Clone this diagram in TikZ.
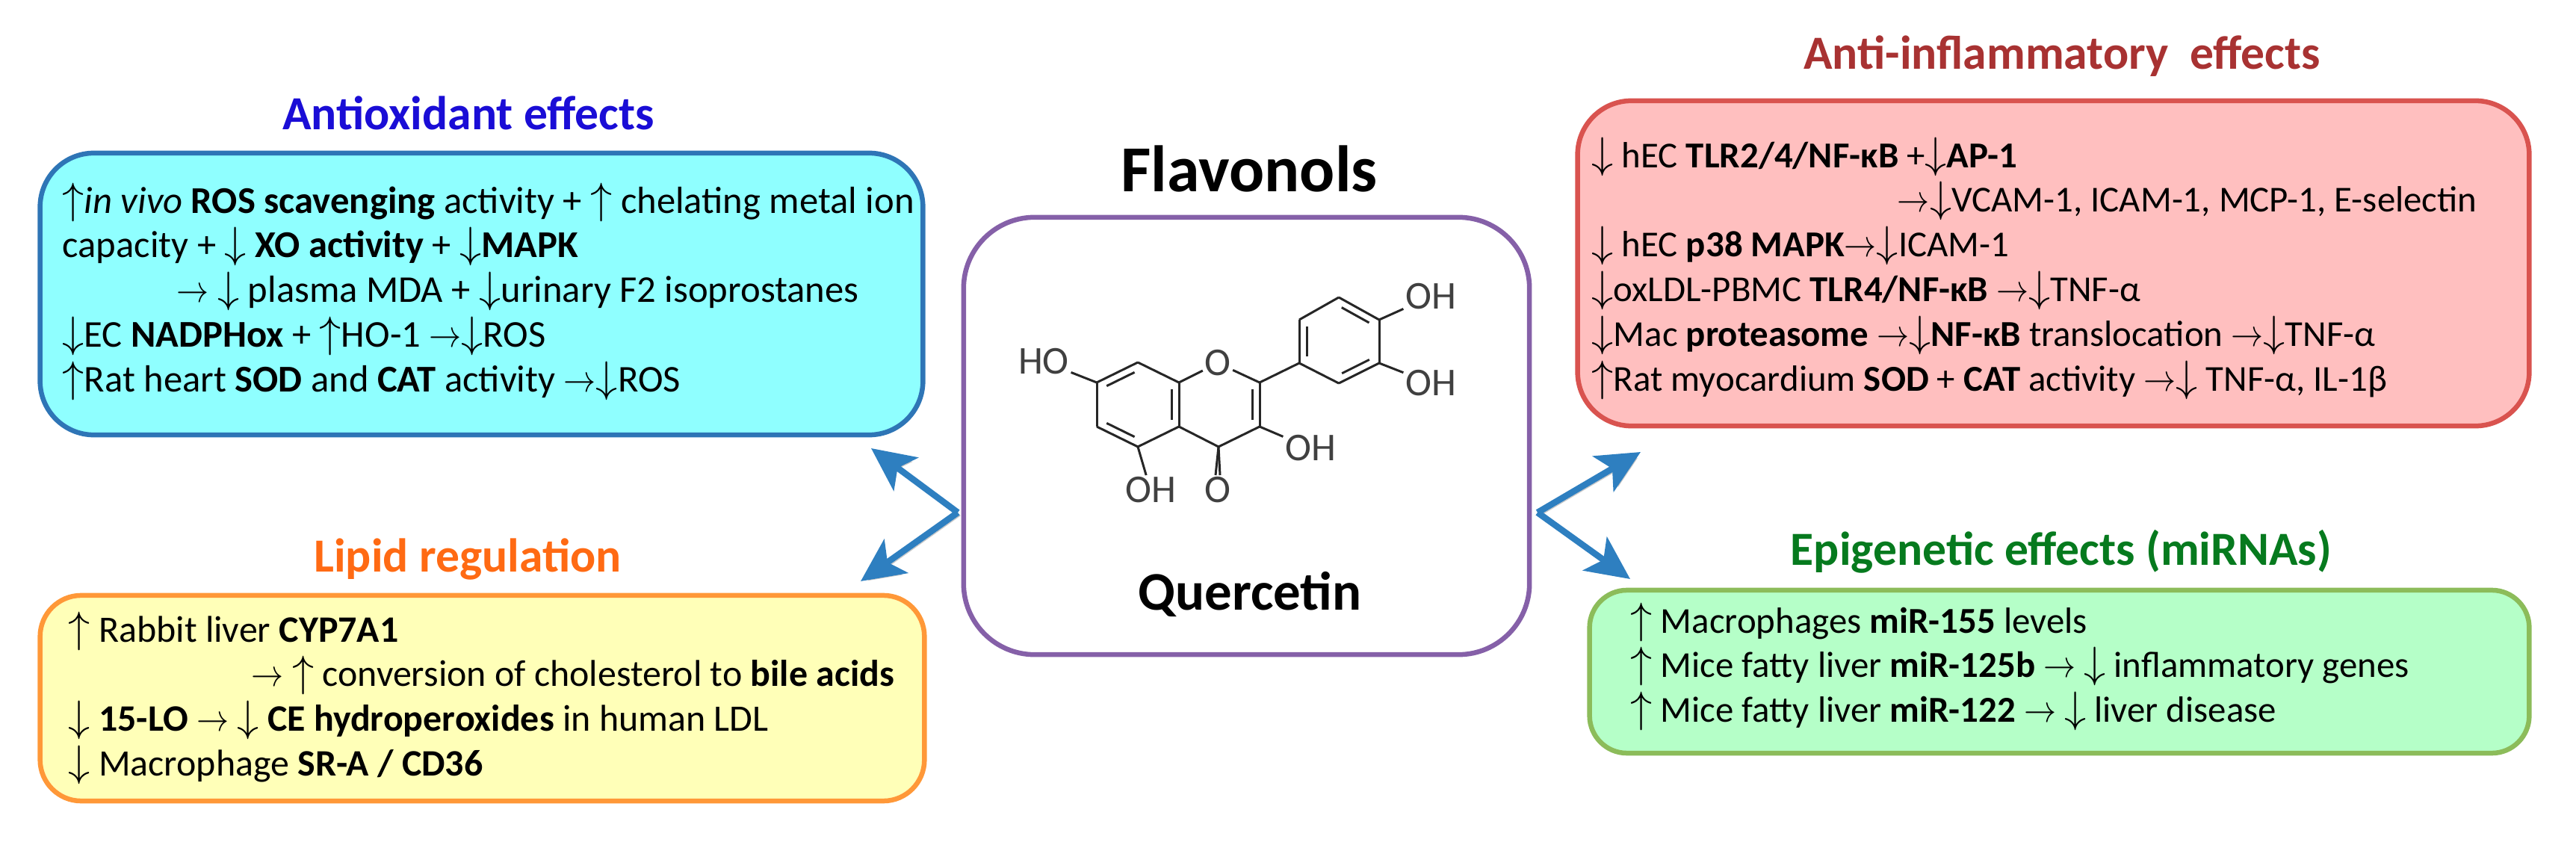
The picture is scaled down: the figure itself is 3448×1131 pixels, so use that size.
\documentclass[tikz,border=0pt]{standalone}
\usepackage{fontspec}
\setmainfont{Carlito}
\usepackage{xcolor}
\usetikzlibrary{arrows, arrows.meta, calc}
\newcommand{\upa}{\scalebox{1.15}{$\uparrow$}}
\newcommand{\dna}{\scalebox{1.15}{$\downarrow$}}
\newcommand{\toa}{\scalebox{0.85}[1]{$\rightarrow$}}
\definecolor{linkblue}{HTML}{2E7FC0}
\definecolor{antiline}{HTML}{2E75B6}
\definecolor{antifill}{HTML}{8FFFFF}
\definecolor{inflline}{HTML}{D9534F}
\definecolor{inflfill}{HTML}{FFBFBF}
\definecolor{lipidline}{HTML}{FF9838}
\definecolor{lipidfill}{HTML}{FFFFB8}
\definecolor{epiline}{HTML}{8CBC5A}
\definecolor{epifill}{HTML}{B5FFC8}
\definecolor{flavline}{HTML}{8560A8}
\definecolor{antitext}{HTML}{1A0DD6}
\definecolor{infltext}{HTML}{A83232}
\definecolor{lipidtext}{HTML}{FF6A13}
\definecolor{epitext}{HTML}{067A1E}

\begin{document}
\begin{tikzpicture}[x=0.01cm, y=-0.01cm]
\tikzstyle{box}=[draw, rounded corners=0.72cm, line width=0.065cm, inner sep=0pt]
\tikzstyle{head}=[anchor=base, inner sep=0pt, font=\fontsize{18.1}{20}\selectfont\bfseries]
\tikzstyle{body}=[anchor=north west, inner sep=0pt, align=left, font=\fontsize{14}{17}\selectfont]
\tikzstyle{link}=[draw=linkblue, line width=0.085cm, -{Stealth[length=0.58cm, width=0.55cm, inset=0.14cm]},
  preaction={draw=black!22, transform canvas={shift={(0.03cm,-0.04cm)}}}]
\tikzstyle{atom}=[inner sep=0.02cm, text=black!75, font=\fontsize{15}{16}\selectfont]
\tikzstyle{bond}=[draw=black!85, line width=0.03cm]
\useasboundingbox (0,0) rectangle (3448,1131);

% boxes
\node[box, draw=antiline, fill=antifill, minimum width=11.81cm, minimum height=3.77cm] (anti) at (644.5,393.5) {};
\node[box, draw=inflline, fill=inflfill, minimum width=12.73cm, minimum height=4.35cm] (infl) at (2748.5,352.5) {};
\node[box, rounded corners=0.55cm, draw=lipidline, fill=lipidfill, minimum width=11.83cm, minimum height=2.75cm] (lipid) at (645.5,934.5) {};
\node[box, rounded corners=0.5cm, draw=epiline, fill=epifill, minimum width=12.57cm, minimum height=2.18cm] (epi) at (2756.5,899) {};
\node[box, rounded corners=0.95cm, draw=flavline, minimum width=7.57cm, minimum height=5.85cm] (flav) at (1668.5,583.5) {};

% titles
\node[head, font=\fontsize{25}{28}\selectfont\bfseries] (t0) at (1672,257) {Flavonols};
\node[head, font=\fontsize{20.7}{23}\selectfont\bfseries] (t5) at (1673,817) {Quercetin};
\node[head, text=antitext] (t1) at (627,174) {Antioxidant effects};
\node[head, text=infltext] (t2) at (2760,93) {Anti-inflammatory\ \ effects};
\node[head, text=lipidtext] (t3) at (626,765) {Lipid regulation};
\node[head, text=epitext] (t4) at (2759,757) {Epigenetic effects (miRNAs)};

% texts
\node[body, font=\fontsize{14.4}{17}\selectfont] (txt1) at (83,244) {\upa\emph{in vivo} \textbf{ROS scavenging} activity + \upa\ chelating metal ion\\
capacity + \dna\ \textbf{XO activity} + \dna\textbf{MAPK}\\
\hspace*{1.53cm}\toa\ \dna\ plasma MDA + \dna urinary F2 isoprostanes\\
\dna EC \textbf{NADPHox} + \upa HO-1 \toa\dna ROS\\
\upa Rat heart \textbf{SOD} and \textbf{CAT} activity \toa\dna ROS};

\node[body, font=\fontsize{13.9}{17}\selectfont] (txt2) at (2130,183) {\dna\ hEC \textbf{TLR2/4/NF-κB} +\dna\textbf{AP-1}\\
\hspace*{4.09cm}\toa\dna VCAM-1, ICAM-1, MCP-1, E-selectin\\
\dna\ hEC \textbf{p38 MAPK}\toa\dna ICAM-1\\
\dna oxLDL-PBMC \textbf{TLR4/NF-κB} \toa\dna TNF-α\\
\dna Mac \textbf{proteasome} \toa\dna\textbf{NF-κB} translocation \toa\dna TNF-α\\
\upa Rat myocardium \textbf{SOD} + \textbf{CAT} activity \toa\dna\ TNF-α, IL-1β};

\node[body, font=\fontsize{14.2}{17}\selectfont] (txt3) at (91,818) {\upa\ Rabbit liver \textbf{CYP7A1}\\
\hspace*{2.45cm}\toa\ \upa\ conversion of cholesterol to \textbf{bile acids}\\
\dna\ \textbf{15-LO} \toa\ \dna\ \textbf{CE hydroperoxides} in human LDL\\
\dna\ Macrophage \textbf{SR-A / CD36}};

\node[body, font=\fontsize{13.9}{17}\selectfont] (txt4) at (2182,806) {\upa\ Macrophages \textbf{miR-155} levels\\
\upa\ Mice fatty liver \textbf{miR-125b} \toa\ \dna\ inflammatory genes\\
\upa\ Mice fatty liver \textbf{miR-122} \toa\ \dna\ liver disease};

% arrows
\coordinate (hubl) at (1282,686);
\coordinate (hubr) at (2058,686);
\coordinate (tipa) at (1166,600);
\coordinate (tipb) at (1152,778);
\coordinate (tipc) at (2196,605);
\coordinate (tipd) at (2182,775);
\draw[link] (hubl) -- (tipa);
\draw[link] (hubl) -- (tipb);
\draw[link] (hubr) -- (tipc);
\draw[link] (hubr) -- (tipd);

% quercetin
\coordinate (c7) at (1468,512);
\coordinate (c8) at (1523,485);
\coordinate (c8a) at (1578,512);
\coordinate (c4a) at (1578,571);
\coordinate (c5) at (1523,598);
\coordinate (c6) at (1468,571);
\coordinate (c2) at (1686,512);
\coordinate (c3) at (1686,571);
\coordinate (c4) at (1631,598);
\coordinate (c1b) at (1739,486);
\coordinate (c2b) at (1739,428);
\coordinate (c3b) at (1792,398);
\coordinate (c4b) at (1846,428);
\coordinate (c5b) at (1846,486);
\coordinate (c6b) at (1792,513);
\node[atom] (o1) at (1630,486) {O};
\node[atom] (o4) at (1630,656) {O};
\node[atom] (oh3) at (1754,600) {OH};
\node[atom] (oh5) at (1540,656) {OH};
\node[atom] (oh7) at (1397,484) {HO};
\node[atom] (oha) at (1915,397) {OH};
\node[atom] (ohb) at (1915,513) {OH};

\path[bond]
(c7) edge (c8)
     edge (c6)
     edge (oh7)
(c8a) edge (c8)
      edge (c4a)
      edge (o1)
(c5) edge (c4a)
     edge (c6)
     edge (oh5)
(c2) edge (o1)
     edge (c3)
     edge (c1b)
(c4) edge (c4a)
     edge (c3)
     edge ([xshift=-0.03cm]o4.north)
     edge ([xshift=0.03cm]o4.north)
(c3) edge (oh3)
(c2b) edge (c1b)
      edge (c3b)
(c4b) edge (c3b)
      edge (c5b)
      edge (oha)
(c6b) edge (c1b)
      edge (c5b)
(c5b) edge (ohb);

% inner lines of the rings
\foreach \a/\b/\s in {c7/c8/-90, c5/c6/-90, c8a/c4a/-90, c2/c3/-90, c2b/c1b/90, c3b/c4b/-90, c6b/c5b/90}
  \draw[bond] ($(\a)!.16!(\b)!0.1cm!\s:(\b)$) -- ($(\b)!.16!(\a)!0.1cm!-\s:(\a)$);
\end{tikzpicture}
\end{document}
